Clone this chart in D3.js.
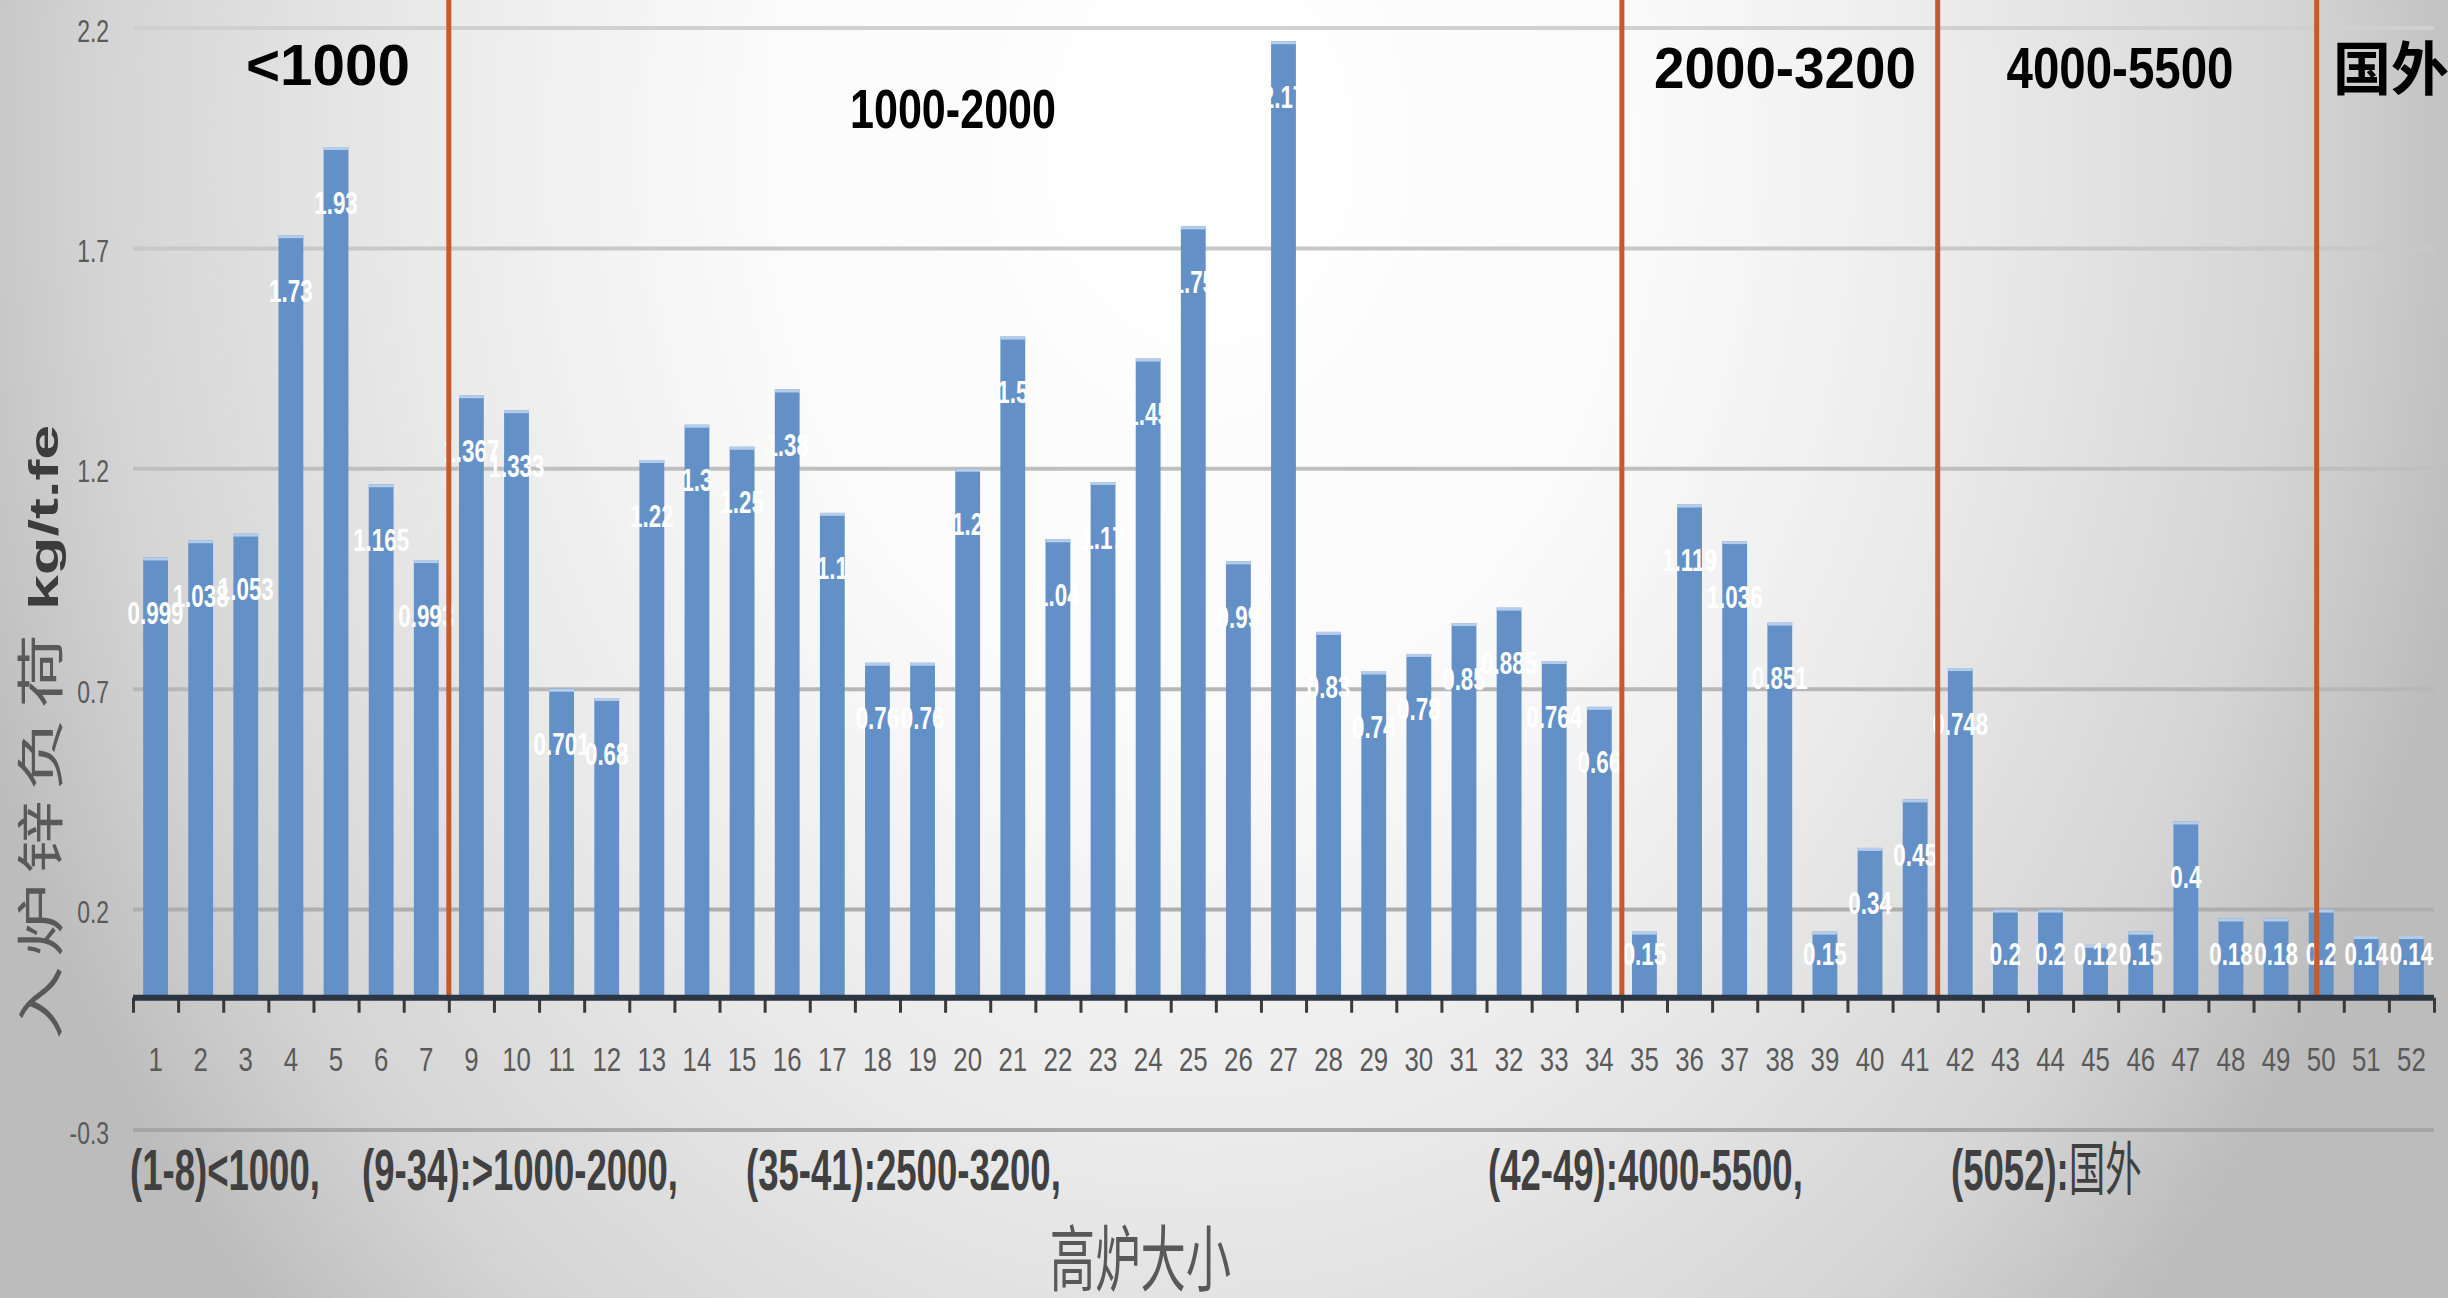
<!DOCTYPE html>
<html>
<head>
<meta charset="utf-8">
<script src="https://cdn.jsdelivr.net/npm/d3@7"></script>
<style>
  html, body { margin: 0; padding: 0; overflow: hidden; background: #ffffff; }
  svg { display: block; }
</style>
</head>
<body>
<svg id="chart" width="2448" height="1298"></svg>
<script>
// Blast furnace zinc load per tonne of iron, furnaces numbered 1-52 (no. 8 missing)
const categories = ["1","2","3","4","5","6","7",
  "9","10","11","12","13","14","15","16","17","18","19","20","21","22","23","24","25","26","27","28","29","30","31","32","33","34",
  "35","36","37","38","39","40","41",
  "42","43","44","45","46","47","48","49",
  "50","51","52"];

const zincLoad = [0.999,1.038,1.053,1.73,1.93,1.165,0.993,
  1.367,1.333,0.701,0.68,1.22,1.3,1.25,1.38,1.1,0.76,0.76,1.2,1.5,1.04,1.17,1.45,1.75,0.99,2.17,0.83,0.74,0.78,0.85,0.885,0.764,0.66,
  0.15,1.119,1.036,0.851,0.15,0.34,0.45,
  0.748,0.2,0.2,0.12,0.15,0.4,0.18,0.18,
  0.2,0.14,0.14];

const yTicks = [-0.3, 0.2, 0.7, 1.2, 1.7, 2.2];

// group boundaries, measured in category slots from the left edge
const groupBreaks = [7, 33, 40, 48.4];
const groupLabels = ["<1000", "1000-2000", "2000-3200", "4000-5500", "国外"];

const groupNotes = ["(1-8)<1000,", "(9-34):>1000-2000,", "(35-41):2500-3200,", "(42-49):4000-5500,", "(5052):国外"];

const yTitleCJK = "入炉锌负荷";
const yTitleUnit = "kg/t.fe";
const xTitle = "高炉大小";

// ---------------------------------------------------------------
const W = 2448, H = 1298;
const plotLeft = 133, plotRight = 2434, plotTop = 28, plotBottom = 1130;

const svg = d3.select("#chart");
const defs = svg.append("defs");

// soft vignette background
const bgGrad = defs.append("radialGradient")
  .attr("id", "bgGrad")
  .attr("gradientUnits", "userSpaceOnUse")
  .attr("cx", 1200).attr("cy", 150).attr("r", 1300)
  .attr("gradientTransform", "translate(1200,150) scale(1,1.3) translate(-1200,-150)");
[[0, "#ffffff"], [0.35, "#fafafa"], [0.6, "#eaeaea"], [0.85, "#d4d4d4"], [1, "#bcbcbc"]]
  .forEach(([o, c]) => bgGrad.append("stop").attr("offset", o).attr("stop-color", c));

const blur = defs.append("filter").attr("id", "soft").attr("x", "-50%").attr("width", "200%");
blur.append("feGaussianBlur").attr("stdDeviation", 1.6);

svg.append("rect").attr("width", W).attr("height", H).attr("fill", "url(#bgGrad)");

const x = d3.scaleBand()
  .domain(categories)
  .range([plotLeft, plotRight])
  .paddingInner(0.45)
  .paddingOuter(0.225);

const slot = d3.scaleLinear()
  .domain([0, categories.length])
  .range([plotLeft, plotRight]);

const y = d3.scaleLinear()
  .domain([-0.3, 2.2])
  .range([plotBottom, plotTop]);

// horizontal gridlines (slightly darker lower down)
const gridShade = d3.scaleLinear().domain([plotTop, plotBottom]).range(["#d0d0d0", "#a6a6a6"]);
svg.append("g").attr("class", "grid")
  .selectAll("line").data(yTicks).join("line")
  .attr("x1", plotLeft).attr("x2", plotRight)
  .attr("y1", d => y(d)).attr("y2", d => y(d))
  .attr("stroke", d => gridShade(y(d)))
  .attr("stroke-width", 4);

// y tick labels
const yAxis = svg.append("g")
  .attr("transform", `translate(${plotLeft},0)`)
  .call(d3.axisLeft(y).tickValues(yTicks).tickSize(0).tickPadding(0).tickFormat(d => String(d)));
yAxis.select(".domain").remove();
yAxis.selectAll(".tick text")
  .attr("x", -24 / 0.74)
  .attr("dy", "0.42em")
  .attr("transform", "scale(0.74,1)")
  .attr("fill", "#5a5a5a")
  .style("font-family", "'Liberation Sans', Arial, sans-serif")
  .style("font-size", "31px");

// bars
const bars = svg.append("g").attr("class", "bars");
bars.selectAll("rect.bar").data(zincLoad).join("rect")
  .attr("class", "bar")
  .attr("x", (d, i) => x(categories[i]))
  .attr("width", x.bandwidth())
  .attr("y", d => y(d))
  .attr("height", d => y(0) - y(d))
  .attr("fill", "#6391c7");
bars.selectAll("rect.cap").data(zincLoad).join("rect")
  .attr("class", "cap")
  .attr("x", (d, i) => x(categories[i]))
  .attr("width", x.bandwidth())
  .attr("y", d => y(d))
  .attr("height", 3)
  .attr("fill", "#b4cdea");

// value labels, white, just inside the top of each bar
const labelY = d => Math.min(y(d) + 55, y(0) - 44);
svg.append("g").attr("class", "values")
  .selectAll("text").data(zincLoad).join("text")
  .attr("transform", (d, i) => `translate(${x(categories[i]) + x.bandwidth() / 2},${labelY(d)}) scale(0.7,1)`)
  .attr("text-anchor", "middle")
  .attr("dy", "0.36em")
  .attr("fill", "#ffffff")
  .style("font-family", "'Liberation Sans', Arial, sans-serif")
  .style("font-weight", "bold")
  .style("font-size", "32px")
  .text(d => String(d));

// group divider lines with a soft shadow
const breaks = svg.append("g").attr("class", "breaks");
breaks.selectAll("line.shadow").data(groupBreaks).join("line")
  .attr("class", "shadow")
  .attr("x1", d => slot(d) + 4).attr("x2", d => slot(d) + 4)
  .attr("y1", 0).attr("y2", y(0))
  .attr("stroke", "rgba(60,60,60,0.45)")
  .attr("stroke-width", 4)
  .attr("filter", "url(#soft)");
breaks.selectAll("line.rule").data(groupBreaks).join("line")
  .attr("class", "rule")
  .attr("x1", d => slot(d)).attr("x2", d => slot(d))
  .attr("y1", 0).attr("y2", y(0))
  .attr("stroke", "#c55a2d")
  .attr("stroke-width", 5);

// category axis: dark base line, boundary ticks, furnace numbers
const tickAxis = svg.append("g")
  .attr("transform", `translate(0,${y(0)})`)
  .call(d3.axisBottom(slot).tickValues(d3.range(categories.length + 1)).tickSize(15).tickFormat(""));
tickAxis.select(".domain").remove();
tickAxis.selectAll(".tick line").attr("stroke", "#3a3a3a").attr("stroke-width", 3);

svg.append("line")
  .attr("x1", plotLeft).attr("x2", plotRight)
  .attr("y1", y(0)).attr("y2", y(0))
  .attr("stroke", "#2c3542").attr("stroke-width", 6);

const xAxis = svg.append("g")
  .attr("transform", `translate(0,${y(0)})`)
  .call(d3.axisBottom(x).tickSize(0).tickPadding(0));
xAxis.select(".domain").remove();
xAxis.selectAll(".tick text")
  .attr("y", 61)
  .attr("dy", "0.36em")
  .attr("transform", "scale(0.76,1)")
  .attr("fill", "#5a5a5a")
  .style("font-family", "'Liberation Sans', Arial, sans-serif")
  .style("font-size", "34px");

// group headings along the top
const headingLayout = [
  { cx: 328, base: 85, w: 164, size: 58 },
  { cx: 953, base: 128, w: 206, size: 56 },
  { cx: 1785, base: 88, w: 262, size: 57 },
  { cx: 2120, base: 88, w: 227, size: 57 },
  { cx: 2391, base: 90, w: 116, size: 58 }
];
svg.append("g").attr("class", "headings")
  .selectAll("text").data(groupLabels).join("text")
  .attr("x", (d, i) => headingLayout[i].cx)
  .attr("y", (d, i) => headingLayout[i].base)
  .attr("text-anchor", "middle")
  .attr("textLength", (d, i) => headingLayout[i].w)
  .attr("lengthAdjust", "spacingAndGlyphs")
  .attr("fill", "#000000")
  .style("font-family", "'Liberation Sans', 'Noto Sans CJK SC', Arial, sans-serif")
  .style("font-weight", "bold")
  .style("font-size", (d, i) => headingLayout[i].size + "px")
  .text(d => d);

// group notes under the axis
const noteStarts = [130, 362, 746, 1488, 1951];
const notes = svg.append("g").attr("class", "notes")
  .selectAll("text").data(groupNotes).join("text")
  .attr("transform", (d, i) => `translate(${noteStarts[i]},1190) scale(0.63,1)`)
  .attr("fill", "#404040")
  .style("font-family", "'Liberation Sans', 'Noto Sans CJK SC', Arial, sans-serif")
  .style("font-size", "58px");
notes.each(function(d) {
  const t = d3.select(this);
  const m = d.match(/^([^\u4e00-\u9fff]*)(.*)$/);
  t.append("tspan").style("font-weight", "bold").text(m[1]);
  if (m[2]) t.append("tspan").style("font-weight", "normal").style("font-family", "'Noto Sans CJK SC', sans-serif").text(m[2]);
});

// x axis title
svg.append("text")
  .attr("transform", `translate(${(plotLeft + plotRight) / 2 - 143},1285) scale(0.63,1)`)
  .attr("text-anchor", "middle")
  .attr("fill", "#595959")
  .style("font-family", "'Noto Sans CJK SC', sans-serif")
  .style("font-size", "72px")
  .text(xTitle);

// y axis title, rotated and squeezed across
const yTitle = svg.append("text")
  .attr("transform", "translate(58,1040) scale(0.65,1) rotate(-90)")
  .attr("fill", "#595959");
yTitle.append("tspan")
  .style("font-family", "'Noto Sans CJK SC', sans-serif")
  .style("font-size", "74px")
  .style("letter-spacing", "9px")
  .text(yTitleCJK);
yTitle.append("tspan")
  .attr("dx", 15)
  .attr("fill", "#3c3c3c")
  .style("font-family", "'Liberation Sans', Arial, sans-serif")
  .style("font-weight", "bold")
  .style("font-size", "63px")
  .text(yTitleUnit);
</script>
</body>
</html>
